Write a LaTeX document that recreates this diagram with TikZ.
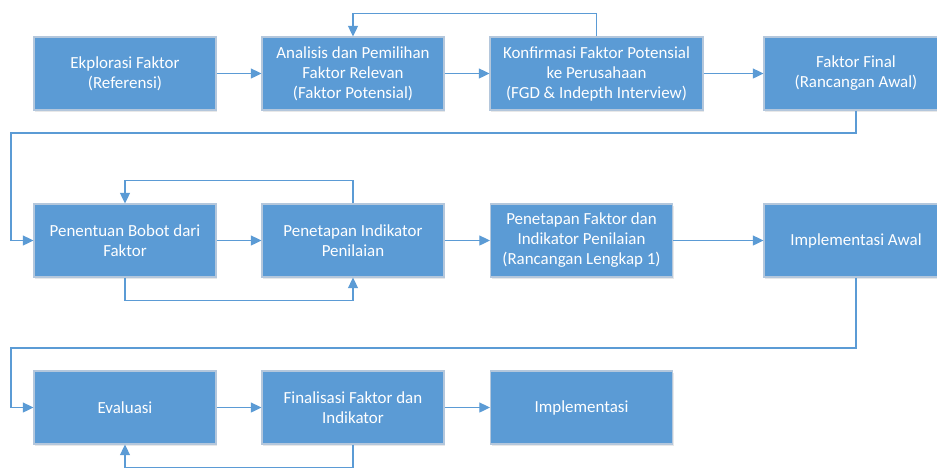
\documentclass[tikz,border=0pt]{standalone}
\usepackage{fontspec}
\setmainfont{Carlito}
\usetikzlibrary{arrows.meta,positioning,shadows}
\definecolor{boxblue}{HTML}{5B9BD5}
\definecolor{boxedge}{HTML}{B4C7DC}
\tikzset{>={Triangle[length=8pt,width=7.5pt]}}
\tikzset{proses/.style={rectangle, fill=boxblue, draw=boxedge, line width=0.8pt,
    text=white, align=center, font=\fontsize{12.7}{15}\selectfont,
    minimum width=136.5pt, minimum height=54.75pt, inner sep=2pt,
    drop shadow={opacity=0.18, shadow xshift=1pt, shadow yshift=-1.2pt}}}
\tikzset{alur/.style={->, draw=boxblue, line width=1pt}}

\begin{document}
\begin{tikzpicture}[x=0.75pt,y=-0.75pt]
      \clip (0,0) rectangle (937,469);
      \fill[white] (0,0) rectangle (937,469);
      % baris pertama
      \node[proses] (eksplorasi) at (125,73.5) {Ekplorasi Faktor\\(Referensi)};
      \node[proses] (analisis) at (353,73.5) {Analisis dan Pemilihan\\Faktor Relevan\\(Faktor Potensial)};
      \node[proses, minimum width=159.75pt] (konfirmasi) at (596.5,73.5) {Konfirmasi Faktor Potensial\\ke Perusahaan\\(FGD \& Indepth Interview)};
      \node[proses, minimum width=138pt] (final) at (856,73.5) {Faktor Final\\(Rancangan Awal)};
      % baris kedua
      \node[proses] (bobot) at (125,240.5) {Penentuan Bobot dari\\Faktor};
      \node[proses] (indikator) at (353,240.5) {Penetapan Indikator\\Penilaian};
      \node[proses] (lengkap) at (581.5,240.5) {Penetapan Faktor dan\\Indikator Penilaian\\(Rancangan Lengkap 1)};
      \node[proses, minimum width=138pt] (awal) at (856,240.5) {Implementasi Awal};
      % baris ketiga
      \node[proses] (evaluasi) at (125,407.5) {Evaluasi};
      \node[proses] (finalisasi) at (353,407.5) {Finalisasi Faktor dan\\Indikator};
      \node[proses] (implementasi) at (581.5,407.5) {Implementasi};
      \coordinate (t1) at (11,133);
      \coordinate (t2) at (11,348);
      \draw[alur] (eksplorasi) -- (analisis);
      \draw[alur] (analisis) -- (konfirmasi);
      \draw[alur] (konfirmasi) -- (final);
      \draw[alur] (konfirmasi.north) -- ++(0,-23) -| (analisis.north);
      \draw[alur] (final.south) |- (t1) |- (bobot.west);
      \draw[alur] (bobot) -- (indikator);
      \draw[alur] (indikator) -- (lengkap);
      \draw[alur] (lengkap) -- (awal);
      \draw[alur] (indikator.north) -- ++(0,-23) -| (bobot.north);
      \draw[alur] (bobot.south) -- ++(0,23) -| (indikator.south);
      \draw[alur] (awal.south) |- (t2) |- (evaluasi.west);
      \draw[alur] (evaluasi) -- (finalisasi);
      \draw[alur] (finalisasi) -- (implementasi);
      \draw[alur] (finalisasi.south) -- ++(0,23) -| (evaluasi.south);
    \end{tikzpicture}
\end{document}
